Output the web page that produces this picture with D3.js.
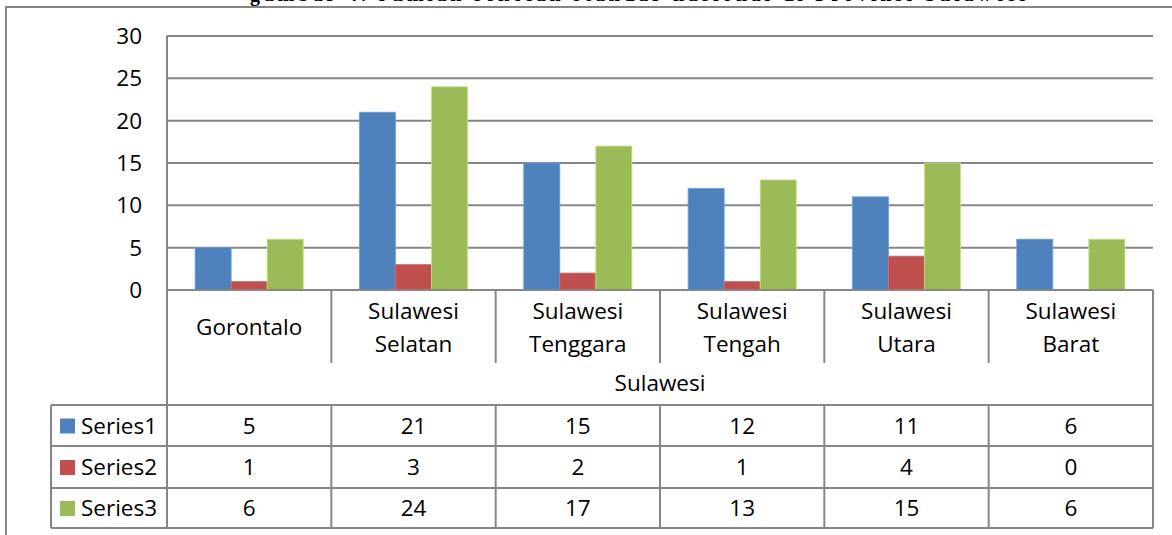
<!DOCTYPE html>
<html>
<head>
<meta charset="utf-8">
<script src="https://cdn.jsdelivr.net/npm/d3@7"></script>
<style>
  body { margin: 0; background: #fff; }
  svg { display: block; }
  text { font-family: "Open Sans", sans-serif; fill: #000; }
</style>
</head>
<body>
<script>
// data
var categories = [["Gorontalo"], ["Sulawesi", "Selatan"], ["Sulawesi", "Tenggara"],
                  ["Sulawesi", "Tengah"], ["Sulawesi", "Utara"], ["Sulawesi", "Barat"]];
var groupLabel = "Sulawesi";
var seriesNames = ["Series1", "Series2", "Series3"];
var series1 = [5, 21, 15, 12, 11, 6];
var series2 = [1, 3, 2, 1, 4, 0];
var series3 = [6, 24, 17, 13, 15, 6];
var yTicks = [0, 5, 10, 15, 20, 25, 30];
var colors = ["#4F81BD", "#C0504D", "#9BBB59"];
var title = "gambar 4. Jumlah sekolah standar nasional di Provinsi Sulawesi";

var allSeries = [series1, series2, series3];
var W = 1172, H = 535;
var gridColor = "#868686";
var fs = "22.5px";

var svg = d3.select("body").append("svg")
    .attr("width", W)
    .attr("height", H);

// cut-off title at top
svg.append("text")
    .attr("x", 250)
    .attr("y", 0.5)
    .attr("textLength", 775)
    .style("font-family", "'Liberation Serif', serif")
    .style("font-weight", "bold")
    .style("font-size", "20px")
    .text(title);

// outer chart border
svg.append("rect")
    .attr("x", 6).attr("y", 7)
    .attr("width", W + 10).attr("height", H + 10)
    .attr("fill", "none")
    .attr("stroke", gridColor)
    .attr("stroke-width", 2);

var plotLeft = 167, plotRight = 1153, plotTop = 36, zeroY = 290;
var catIdx = categories.map(function (d, i) { return i; });

var x0 = d3.scaleBand().domain(catIdx).range([plotLeft, plotRight]).padding(0);
var x1 = d3.scaleBand().domain(d3.range(seriesNames.length))
    .range([0, x0.bandwidth()]).paddingInner(0).paddingOuter(0.78);
var y = d3.scaleLinear().domain([0, 30]).range([zeroY, plotTop]);

// gridlines
svg.append("g").selectAll("line")
    .data(yTicks.filter(function (t) { return t > 0; }))
    .join("line")
    .attr("x1", plotLeft).attr("x2", plotRight)
    .attr("y1", function (d) { return y(d); })
    .attr("y2", function (d) { return y(d); })
    .attr("stroke", gridColor)
    .attr("stroke-width", 2);

// y tick labels
svg.append("g").selectAll("text")
    .data(yTicks)
    .join("text")
    .attr("x", 142)
    .attr("y", function (d) { return y(d); })
    .attr("dy", "0.36em")
    .attr("text-anchor", "end")
    .style("font-size", fs)
    .text(function (d) { return d; });

// bars
allSeries.forEach(function (vals, s) {
    svg.append("g").selectAll("rect")
        .data(vals)
        .join("rect")
        .attr("x", function (d, i) { return x0(i) + x1(s); })
        .attr("y", function (d) { return y(d); })
        .attr("width", x1.bandwidth())
        .attr("height", function (d) { return zeroY - y(d); })
        .attr("fill", colors[s])
        .attr("stroke", d3.color(colors[s]).brighter(0.6))
        .attr("stroke-width", 0.8);
});

// axis lines
var catBottom = 363;
var rowYs = [405, 446, 488, 528];
var tableLeft = 51;

svg.append("line")
    .attr("x1", plotLeft).attr("x2", plotRight)
    .attr("y1", zeroY).attr("y2", zeroY)
    .attr("stroke", gridColor).attr("stroke-width", 2);
svg.append("line")
    .attr("x1", plotLeft).attr("x2", plotLeft)
    .attr("y1", plotTop).attr("y2", rowYs[3])
    .attr("stroke", gridColor).attr("stroke-width", 2);
svg.append("line")
    .attr("x1", plotRight).attr("x2", plotRight)
    .attr("y1", zeroY).attr("y2", rowYs[3])
    .attr("stroke", gridColor).attr("stroke-width", 2);

// category dividers
svg.append("g").selectAll("line")
    .data(catIdx.slice(1))
    .join("line")
    .attr("x1", function (d) { return x0(d); })
    .attr("x2", function (d) { return x0(d); })
    .attr("y1", zeroY).attr("y2", catBottom)
    .attr("stroke", gridColor).attr("stroke-width", 2);

// category labels
var catG = svg.append("g").selectAll("text")
    .data(categories)
    .join("text")
    .attr("text-anchor", "middle")
    .style("font-size", fs);
catG.each(function (lines, i) {
    var cx = x0(i) + x0.bandwidth() / 2;
    var mid = 327;
    var lh = 33;
    d3.select(this).selectAll("tspan")
        .data(lines)
        .join("tspan")
        .attr("x", cx)
        .attr("y", function (d, k) { return mid + (k - (lines.length - 1) / 2) * lh; })
        .attr("dy", "0.36em")
        .text(function (d) { return d; });
});

svg.append("text")
    .attr("x", (plotLeft + plotRight) / 2)
    .attr("y", 383)
    .attr("dy", "0.36em")
    .attr("text-anchor", "middle")
    .style("font-size", fs)
    .text(groupLabel);

// data table
rowYs.forEach(function (ry) {
    svg.append("line")
        .attr("x1", tableLeft).attr("x2", plotRight)
        .attr("y1", ry).attr("y2", ry)
        .attr("stroke", gridColor).attr("stroke-width", 2);
});
svg.append("line")
    .attr("x1", tableLeft).attr("x2", tableLeft)
    .attr("y1", rowYs[0]).attr("y2", rowYs[3])
    .attr("stroke", gridColor).attr("stroke-width", 2);
svg.append("g").selectAll("line")
    .data(catIdx.slice(1))
    .join("line")
    .attr("x1", function (d) { return x0(d); })
    .attr("x2", function (d) { return x0(d); })
    .attr("y1", rowYs[0]).attr("y2", rowYs[3])
    .attr("stroke", gridColor).attr("stroke-width", 2);

allSeries.forEach(function (vals, s) {
    var cy = (rowYs[s] + rowYs[s + 1]) / 2;
    svg.append("rect")
        .attr("x", 60).attr("y", cy - 7)
        .attr("width", 15).attr("height", 15)
        .attr("fill", colors[s]);
    svg.append("text")
        .attr("x", 81).attr("y", cy)
        .attr("dy", "0.36em")
        .style("font-size", fs)
        .text(seriesNames[s]);
    svg.append("g").selectAll("text")
        .data(vals)
        .join("text")
        .attr("x", function (d, i) { return x0(i) + x0.bandwidth() / 2; })
        .attr("y", cy)
        .attr("dy", "0.36em")
        .attr("text-anchor", "middle")
        .style("font-size", fs)
        .text(function (d) { return d; });
});
</script>
</body>
</html>
